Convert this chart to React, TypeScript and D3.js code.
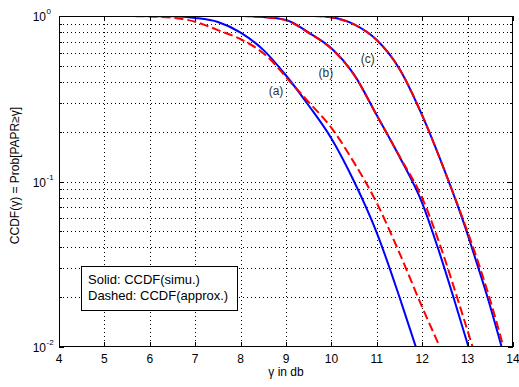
import React from "react";
import * as d3 from "d3";

// ---- data ----
const xTicks = [4, 5, 6, 7, 8, 9, 10, 11, 12, 13, 14];
const yTicksMajor = [0.01, 0.1, 1];
const yTickExp = ["-2", "-1", "0"];

// (a) simulated (solid) / approx (dashed)
const aSimX = [5.8, 6.5, 7.0, 7.5, 8.0, 8.5, 9.0, 9.5, 10.0, 10.5, 11.0, 11.5, 11.86];
const aSimP = [1.0, 0.995, 0.973, 0.92, 0.794, 0.624, 0.437, 0.288, 0.182, 0.1, 0.049, 0.02, 0.01];
const aApxX = [5.4, 6.0, 6.5, 7.0, 7.5, 8.0, 8.5, 8.75, 9.0, 9.5, 10.0, 10.5, 11.0, 11.47, 12.0, 12.39];
const aApxP = [1.0, 0.993, 0.977, 0.923, 0.822, 0.724, 0.596, 0.513, 0.427, 0.302, 0.211, 0.130, 0.0741, 0.0386, 0.0174, 0.01];

// (b)
const bSimX = [8.1, 8.5, 9.0, 9.5, 10.0, 10.5, 11.0, 11.5, 12.0, 12.36, 12.7, 13.02];
const bSimP = [1.0, 0.986, 0.946, 0.794, 0.638, 0.442, 0.251, 0.141, 0.0741, 0.0386, 0.0195, 0.01];
const bApxX = [8.0, 8.5, 9.0, 9.5, 10.0, 10.5, 11.0, 11.5, 12.0, 12.43, 12.78, 13.11];
const bApxP = [1.0, 0.984, 0.942, 0.79, 0.634, 0.44, 0.251, 0.142, 0.0794, 0.0386, 0.0195, 0.01];

// (c)
const cSimX = [9.75, 10.0, 10.5, 11.0, 11.5, 12.0, 12.5, 13.0, 13.11, 13.45, 13.75];
const cSimP = [1.0, 0.982, 0.891, 0.716, 0.479, 0.251, 0.115, 0.0479, 0.0386, 0.0195, 0.01];
const cApxX = [9.6, 10.0, 10.5, 11.0, 11.5, 12.0, 12.5, 13.02, 13.14, 13.49, 13.79];
const cApxP = [1.0, 0.98, 0.889, 0.714, 0.479, 0.251, 0.115, 0.0479, 0.0386, 0.0195, 0.01];

const curveLabels = ["(a)", "(b)", "(c)"];
const curveLabelX = [8.78, 9.88, 10.8];
const curveLabelP = [0.333, 0.43, 0.52];

const legendLines = ["Solid: CCDF(simu.)", "Dashed: CCDF(approx.)"];
const xLabel = "γ in db";
const yLabel = "CCDF(γ) = Prob[PAPR≥γ]";

// ---- layout ----
const W = 519, H = 387;
const L = 59, R = 513, T = 16, B = 347;
const FONT = "'Liberation Sans', Arial, Helvetica, sans-serif";

export default function App() {
  const x = d3.scaleLinear().domain([4, 14]).range([L, R]);
  const y = d3.scaleLog().domain([0.01, 1]).range([B, T]);

  const mk = (xs: number[], ps: number[]) =>
    d3.line<number>().x((_, i) => x(xs[i])).y((_, i) => y(ps[i])).curve(d3.curveMonotoneX)(xs) || "";

  const minorY: number[] = [];
  [0.01, 0.1].forEach((dec) => {
    for (let k = 2; k <= 9; k++) minorY.push(dec * k);
  });
  const allY = [...yTicksMajor, ...minorY];

  const gridStyle = { stroke: "#000", strokeWidth: 1, strokeDasharray: "1,3" };

  return (
    <svg width={W} height={H} style={{ position: "absolute", left: 0, top: 0, background: "#fff" }}>
      <defs>
        <clipPath id="plotclip">
          <rect x={L} y={T} width={R - L} height={B - T} />
        </clipPath>
      </defs>
      <rect x={0} y={0} width={W} height={H} fill="#fff" />
      {/* grid */}
      <g shapeRendering="crispEdges">
        {xTicks.slice(1, -1).map((v) => (
          <line key={"gx" + v} x1={Math.round(x(v)) + 0.5} x2={Math.round(x(v)) + 0.5} y1={T} y2={B} {...gridStyle} />
        ))}
        {allY.filter((p) => p > 0.01 && p < 1).map((p) => (
          <line key={"gy" + p} x1={L} x2={R} y1={Math.round(y(p)) + 0.5} y2={Math.round(y(p)) + 0.5} {...gridStyle} />
        ))}
      </g>
      {/* curves */}
      <g clipPath="url(#plotclip)" fill="none" strokeWidth={2}>
        <path d={mk(aSimX, aSimP)} stroke="#0000ff" />
        <path d={mk(bSimX, bSimP)} stroke="#0000ff" />
        <path d={mk(cSimX, cSimP)} stroke="#0000ff" />
        <path d={mk(aApxX, aApxP)} stroke="#ff0000" strokeDasharray="9,4" />
        <path d={mk(bApxX, bApxP)} stroke="#ff0000" strokeDasharray="9,4" />
        <path d={mk(cApxX, cApxP)} stroke="#ff0000" strokeDasharray="9,4" />
      </g>
      {/* ticks */}
      <g stroke="#000" strokeWidth={1} shapeRendering="crispEdges">
        {xTicks.map((v) => (
          <g key={"tx" + v}>
            <line x1={Math.round(x(v)) + 0.5} x2={Math.round(x(v)) + 0.5} y1={B} y2={B - 5} />
            <line x1={Math.round(x(v)) + 0.5} x2={Math.round(x(v)) + 0.5} y1={T} y2={T + 5} />
          </g>
        ))}
        {allY.map((p) => {
          const len = yTicksMajor.includes(p) ? 5 : 3;
          const yy = Math.round(y(p)) + 0.5;
          return (
            <g key={"ty" + p}>
              <line x1={L} x2={L + len} y1={yy} y2={yy} />
              <line x1={R} x2={R - len} y1={yy} y2={yy} />
            </g>
          );
        })}
        <rect x={L + 0.5} y={T + 0.5} width={R - L - 1} height={B - T - 1} fill="none" />
      </g>
      {/* tick labels */}
      <g fontFamily={FONT} fill="#000">
        {xTicks.map((v) => (
          <text key={"lx" + v} x={x(v)} y={363} fontSize={12} textAnchor="middle">{v}</text>
        ))}
        {yTicksMajor.map((p, i) => (
          <g key={"ly" + p}>
            <text x={46} y={y(p) + 5} fontSize={12} textAnchor="end">10</text>
            <text x={46.5} y={y(p) - 2} fontSize={8} textAnchor="start">{yTickExp[i]}</text>
          </g>
        ))}
        <text x={(L + R) / 2} y={376} fontSize={12} textAnchor="middle">{xLabel}</text>
        <text transform={`translate(19,${(T + B) / 2 - 6}) rotate(-90)`} fontSize={12} textAnchor="middle">{yLabel}</text>
      </g>
      {/* curve labels */}
      <g fontFamily={FONT} fill="#333" fontSize={12}>
        {curveLabels.map((t, i) => (
          <text key={t} x={x(curveLabelX[i])} y={y(curveLabelP[i])} textAnchor="middle">{t}</text>
        ))}
      </g>
      {/* legend */}
      <g fontFamily={FONT}>
        <rect x={81.5} y={266.5} width={156} height={44} fill="#fff" stroke="#000" strokeWidth={1} shapeRendering="crispEdges" />
        {legendLines.map((t, i) => (
          <text key={t} x={88} y={284 + i * 16} fontSize={13} fill="#000">{t}</text>
        ))}
      </g>
    </svg>
  );
}
